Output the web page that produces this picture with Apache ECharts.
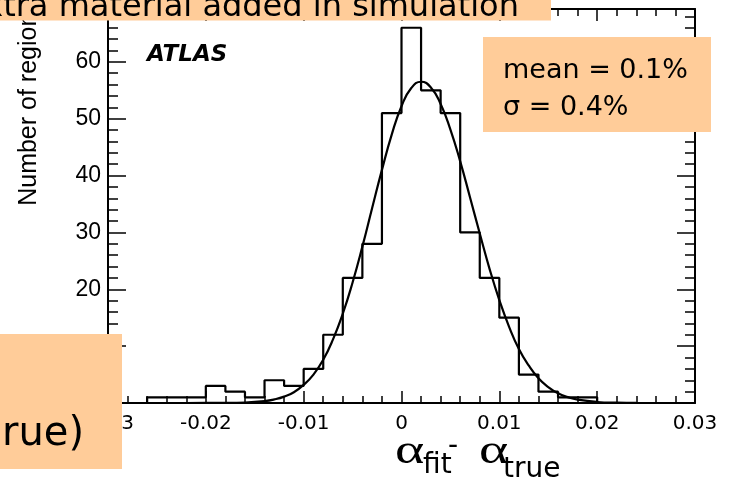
<!DOCTYPE html>
<html>
<head>
<meta charset="utf-8">
<script src="https://cdn.jsdelivr.net/npm/echarts@6/dist/echarts.min.js"></script>
<style>
html,body{margin:0;padding:0;background:#fff;}
#chart{width:730px;height:482px;}
</style>
</head>
<body>
<div id="chart"></div>
<script>
// ---- data ----
const binLow = [-0.026,-0.024,-0.022,-0.020,-0.018,-0.016,-0.014,-0.012,-0.010,-0.008,-0.006,-0.004,-0.002,0.000,0.002,0.004,0.006,0.008,0.010,0.012,0.014,0.016,0.018];
const binHigh = 0.020;
const counts = [1,1,1,3,2,1,4,3,6,12,22,28,51,66,55,51,30,22,15,5,2,1,1];

const fitX = [-0.022,-0.020,-0.018,-0.016,-0.014,-0.013,-0.012,-0.011,-0.010,-0.009,-0.008,-0.007,-0.006,-0.005,-0.004,-0.003,-0.002,-0.001,0.000,0.001,0.002,0.003,0.004,0.005,0.006,0.007,0.008,0.009,0.010,0.011,0.012,0.013,0.014,0.015,0.016,0.017,0.018,0.020,0.022,0.024];
const fitY = [0.0,0.01,0.02,0.09,0.34,0.63,1.12,1.9,3.2,5.0,7.6,11.2,15.7,21.2,27.5,34.3,41.0,47.2,52.2,55.4,56.5,55.5,52.6,48.1,42.5,36.2,29.8,23.6,18.1,13.4,9.5,6.6,4.35,2.8,1.7,1.03,0.59,0.18,0.05,0.01];

const xTicks = [-0.03,-0.02,-0.01,0,0.01,0.02,0.03];
const yTicks = [0,10,20,30,40,50,60];

const topNote = 'Extra material added in simulation';
const statsText = 'mean = 0.1%\nσ = 0.4%';
const cutText = 'rue)';
const expLabel = 'ATLAS';
const yTitle = 'Number of regions';
const xTitleParts = ['α', 'fit', '-', 'α', 'true'];

// ---- build option ----
const histData = [[binLow[0], 0]];
binLow.forEach((x, i) => histData.push([x, counts[i]]));
histData.push([binHigh, counts[counts.length - 1]]);
histData.push([binHigh, 0]);
const fitData = fitX.map((x, i) => [x, fitY[i]]);

const yMax = 69.3;
const black = '#000';
const tickStyle = {color: black, width: 1.5};

function xAx(pos, showLabel) {
  return {
    type: 'value', min: xTicks[0], max: xTicks[xTicks.length - 1], interval: 0.01,
    position: pos,
    axisLine: {onZero: false, lineStyle: {color: black, width: 2}},
    axisTick: {inside: true, length: 12, lineStyle: tickStyle},
    minorTick: {show: true, splitNumber: 5, length: 7, lineStyle: tickStyle},
    splitLine: {show: false}, minorSplitLine: {show: false},
    axisLabel: {show: showLabel, fontFamily: 'DejaVu Sans', fontSize: 20, color: black, margin: 11}
  };
}
function yAx(pos, interval, tickLen, showLabel, showLine) {
  const a = {
    type: 'value', min: yTicks[0], max: yMax, interval: interval, position: pos,
    axisLine: {show: showLine, onZero: false, lineStyle: {color: black, width: 2}},
    axisTick: {inside: true, length: tickLen, lineStyle: tickStyle},
    splitLine: {show: false},
    axisLabel: {show: showLabel, showMaxLabel: false, fontFamily: 'Liberation Sans', fontSize: 23, color: black, margin: 7}
  };
  if (showLabel) {
    a.name = yTitle;
    a.nameLocation = 'middle';
    a.nameRotate = 90;
    a.nameGap = 66;
    a.nameTextStyle = {fontFamily: 'Liberation Sans', fontSize: 25, lineHeight: 25, color: black, padding: [0, 0, 0, 206]};
  }
  return a;
}

function titlePart(text, x, y, family, size, sx) {
  return {type: 'text', z: 50, x: x, y: y, scaleX: sx || 1,
    style: {text: text, fontFamily: family, fontSize: size, fill: black, align: 'left', verticalAlign: 'middle'}};
}

const option = {
  backgroundColor: '#fff',
  animation: false,
  grid: {left: 108, right: 35, top: 9, bottom: 79, containLabel: false, outerBoundsMode: 'none'},
  xAxis: [xAx('bottom', true), xAx('top', false)],
  yAxis: [
    yAx('left', 10, 18, true, true),
    yAx('left', 2, 10, false, false),
    yAx('right', 10, 18, false, true),
    yAx('right', 2, 10, false, false)
  ],
  series: [
    {type: 'line', xAxisIndex: 0, yAxisIndex: 0, data: histData, step: 'end', symbol: 'none',
     lineStyle: {color: black, width: 2.2}, z: 3},
    {type: 'line', xAxisIndex: 0, yAxisIndex: 0, data: fitData, smooth: true, symbol: 'none',
     lineStyle: {color: black, width: 2.2}, z: 4}
  ],
  graphic: [
    titlePart(xTitleParts[0], 395, 452, 'Liberation Serif', 43, 1.3),
    titlePart(xTitleParts[1], 423, 466, 'DejaVu Sans', 28),
    titlePart(xTitleParts[2], 448, 447, 'DejaVu Sans', 28),
    titlePart(xTitleParts[3], 479, 452, 'Liberation Serif', 43, 1.3),
    titlePart(xTitleParts[4], 503, 470, 'DejaVu Sans', 28),
    {type: 'text', z: 50, left: 147, top: 44, style: {text: expLabel, fontFamily: 'DejaVu Sans', fontWeight: 'bold', fontStyle: 'italic', fontSize: 23, fill: black}},
    {type: 'rect', z: 100, shape: {x: 0, y: 0, width: 551, height: 20.5}, style: {fill: '#ffcc99'}},
    {type: 'text', z: 101, x: -36, y: 8, style: {text: topNote, fontFamily: 'DejaVu Sans', fontSize: 32, fill: black, align: 'left', verticalAlign: 'middle'}},
    {type: 'rect', z: 100, shape: {x: 483, y: 37, width: 228, height: 95}, style: {fill: '#ffcc99'}},
    {type: 'text', z: 101, x: 503, y: 52, style: {text: statsText, fontFamily: 'DejaVu Sans', fontSize: 27, lineHeight: 37.3, fill: black, align: 'left', verticalAlign: 'top'}},
    {type: 'rect', z: 100, shape: {x: 0, y: 334, width: 122, height: 135}, style: {fill: '#ffcc99'}},
    {type: 'text', z: 101, x: 2, y: 435, style: {text: cutText, fontFamily: 'DejaVu Sans', fontSize: 40, fill: black, align: 'left', verticalAlign: 'middle'}}
  ]
};

const chart = echarts.init(document.getElementById('chart'), null, {renderer: 'canvas'});
chart.setOption(option);
</script>
</body>
</html>
